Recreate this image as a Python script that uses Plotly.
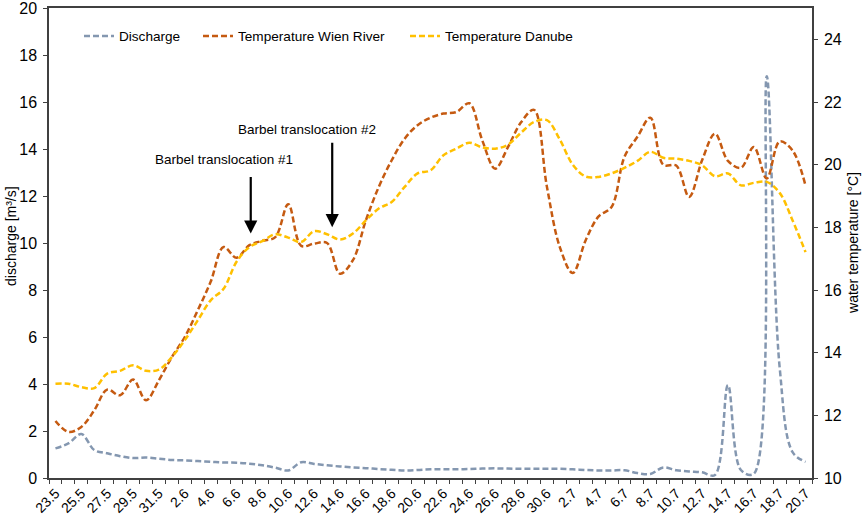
import plotly.graph_objects as go

# ==========================
# DATA (daily, 23 May - 20 July)
# ==========================
dates = (
    [f"{d}.5" for d in range(23, 32)]
    + [f"{d}.6" for d in range(1, 31)]
    + [f"{d}.7" for d in range(1, 21)]
)

discharge = [
    1.26, 1.47, 1.87, 1.19, 1.05, 0.93, 0.85, 0.87, 0.82, 0.77,
    0.75, 0.72, 0.69, 0.66, 0.65, 0.61, 0.54, 0.44, 0.32, 0.67,
    0.60, 0.54, 0.49, 0.45, 0.42, 0.38, 0.35, 0.32, 0.34, 0.37,
    0.37, 0.37, 0.38, 0.40, 0.41, 0.40, 0.39, 0.39, 0.39, 0.39,
    0.37, 0.34, 0.32, 0.32, 0.33, 0.21, 0.17, 0.45, 0.33, 0.28,
    0.24, 0.13, 3.95, 0.34, 0.18, 17.10, 4.70, 1.10, 0.69,
]

temp_wien = [
    11.82, 11.47, 11.63, 12.16, 12.82, 12.64, 13.14, 12.48, 13.12, 13.86,
    14.50, 15.35, 16.26, 17.37, 17.03, 17.43, 17.57, 17.69, 18.74, 17.41,
    17.48, 17.50, 16.52, 16.95, 18.22, 19.29, 20.14, 20.83, 21.26, 21.50,
    21.63, 21.68, 21.96, 20.78, 19.87, 20.57, 21.35, 21.75, 19.30, 17.37,
    16.54, 17.59, 18.35, 18.65, 20.25, 20.89, 21.50, 20.00, 19.97, 18.97,
    20.14, 20.99, 20.12, 19.90, 20.56, 19.56, 20.74, 20.45, 19.33,
]

temp_danube = [
    13.01, 13.01, 12.90, 12.87, 13.33, 13.42, 13.60, 13.42, 13.46, 13.86,
    14.40, 15.03, 15.67, 16.04, 16.90, 17.37, 17.56, 17.78, 17.67, 17.53,
    17.88, 17.78, 17.61, 17.80, 18.22, 18.60, 18.81, 19.29, 19.72, 19.82,
    20.30, 20.51, 20.70, 20.55, 20.51, 20.64, 21.02, 21.36, 21.42, 20.80,
    20.00, 19.62, 19.61, 19.72, 19.90, 20.12, 20.41, 20.22, 20.19, 20.12,
    19.98, 19.63, 19.72, 19.34, 19.42, 19.45, 19.10, 18.22, 17.21,
]

left_ticks = list(range(0, 21, 2))
right_ticks = list(range(10, 25, 2))

# ==========================
# STYLE
# ==========================
FONT = "Liberation Sans, Arial, sans-serif"
AXIS_COLOR = "#404040"
DASH = "6px,3px"
LEFT_RANGE = [0, 20]
RIGHT_RANGE = [10, 25]

idx = list(range(len(dates)))

fig = go.Figure()

series = [
    ("Discharge", discharge, "#8497B0", "y", "legend"),
    ("Temperature Wien River", temp_wien, "#C55A11", "y2", "legend2"),
    ("Temperature Danube", temp_danube, "#FFC000", "y2", "legend3"),
]
for name, values, color, yax, leg in series:
    fig.add_trace(go.Scatter(
        x=idx, y=values, name=name, mode="lines",
        line=dict(color=color, width=2.5, dash=DASH, shape="spline", smoothing=1.0),
        yaxis=yax, legend=leg,
    ))

# ==========================
# ANNOTATIONS
# ==========================
labels = [
    # text, text x, text y, arrow x, arrow tip y, arrow length (px)
    ("Barbel translocation #1", 13.0, 13.55, 15.1, 10.4, 58),
    ("Barbel translocation #2", 19.45, 14.82, 21.4, 10.67, 86),
]
for text, tx, ty, axx, tipy, length in labels:
    fig.add_annotation(
        x=tx, y=ty, xref="x", yref="y", text=text, showarrow=False,
        font=dict(family=FONT, size=13.5, color="#000000"),
        xanchor="center", yanchor="middle",
    )
    fig.add_annotation(
        x=axx, y=tipy, xref="x", yref="y", text="", showarrow=True,
        ax=0, ay=-length, arrowhead=2, arrowsize=1.2, arrowwidth=2.2,
        arrowcolor="#000000", standoff=0,
    )

# axis titles
fig.add_annotation(
    x=-0.0498, y=0.515, xref="paper", yref="paper", text="discharge [m³/s]",
    textangle=-90, showarrow=False, font=dict(family=FONT, size=14),
    xanchor="center", yanchor="middle",
)
fig.add_annotation(
    x=1.0537, y=0.5, xref="paper", yref="paper", text="water temperature [°C]",
    textangle=-90, showarrow=False, font=dict(family=FONT, size=14),
    xanchor="center", yanchor="middle",
)

# ==========================
# AXES & LAYOUT
# ==========================
legend_style = dict(
    orientation="h", y=0.94, xanchor="left", yanchor="middle",
    bgcolor="rgba(0,0,0,0)", font=dict(family=FONT, size=13.6), itemwidth=30,
)

y_common = dict(
    showgrid=False, zeroline=False, ticklabeloverflow="allow",
)

fig.update_layout(
    width=865,
    height=516,
    margin=dict(l=49, r=53, t=8, b=38, autoexpand=False),
    paper_bgcolor="white",
    plot_bgcolor="white",
    font=dict(family=FONT, size=14, color="#000000"),
    showlegend=True,
    legend=dict(x=0.0393, **legend_style),
    legend2=dict(x=0.1953, **legend_style),
    legend3=dict(x=0.4666, **legend_style),
    xaxis=dict(
        range=[-0.5, len(dates) - 0.5],
        tickmode="array",
        tickvals=idx[::2],
        ticktext=dates[::2],
        tickangle=-45,
        ticks="",
        tickfont=dict(size=14),
        ticklabeloverflow="allow",
        showline=True, linecolor=AXIS_COLOR, linewidth=1.5, mirror=True,
        showgrid=False, zeroline=False,
        minor=dict(
            tickvals=[i - 0.5 for i in range(len(dates) + 1)],
            ticks="outside", ticklen=4, tickcolor=AXIS_COLOR, tickwidth=1,
            showgrid=False,
        ),
    ),
    yaxis=dict(
        range=LEFT_RANGE,
        tickvals=left_ticks,
        ticks="outside", ticklen=4, tickcolor=AXIS_COLOR, tickwidth=1.2,
        ticklabelstandoff=3,
        tickfont=dict(size=16),
        showline=True, linecolor=AXIS_COLOR, linewidth=1.5,
        **y_common,
    ),
    yaxis2=dict(
        overlaying="y",
        side="right",
        range=RIGHT_RANGE,
        tickvals=right_ticks,
        ticks="outside", ticklen=4, tickcolor=AXIS_COLOR, tickwidth=1.2,
        ticklabelstandoff=3,
        tickfont=dict(size=16),
        showline=True, linecolor=AXIS_COLOR, linewidth=1.5,
        **y_common,
    ),
    # inner halves of the crossing tick marks
    yaxis3=dict(
        overlaying="y", side="left", range=LEFT_RANGE, tickvals=left_ticks,
        ticks="inside", ticklen=4, tickcolor=AXIS_COLOR, tickwidth=1.2,
        showticklabels=False, showline=False, **y_common,
    ),
    yaxis4=dict(
        overlaying="y", side="right", range=RIGHT_RANGE, tickvals=right_ticks,
        ticks="inside", ticklen=4, tickcolor=AXIS_COLOR, tickwidth=1.2,
        showticklabels=False, showline=False, **y_common,
    ),
)

fig.write_html(
    "out.html",
    config={"displayModeBar": False},
    post_script="document.body.style.margin = '0';",
)
